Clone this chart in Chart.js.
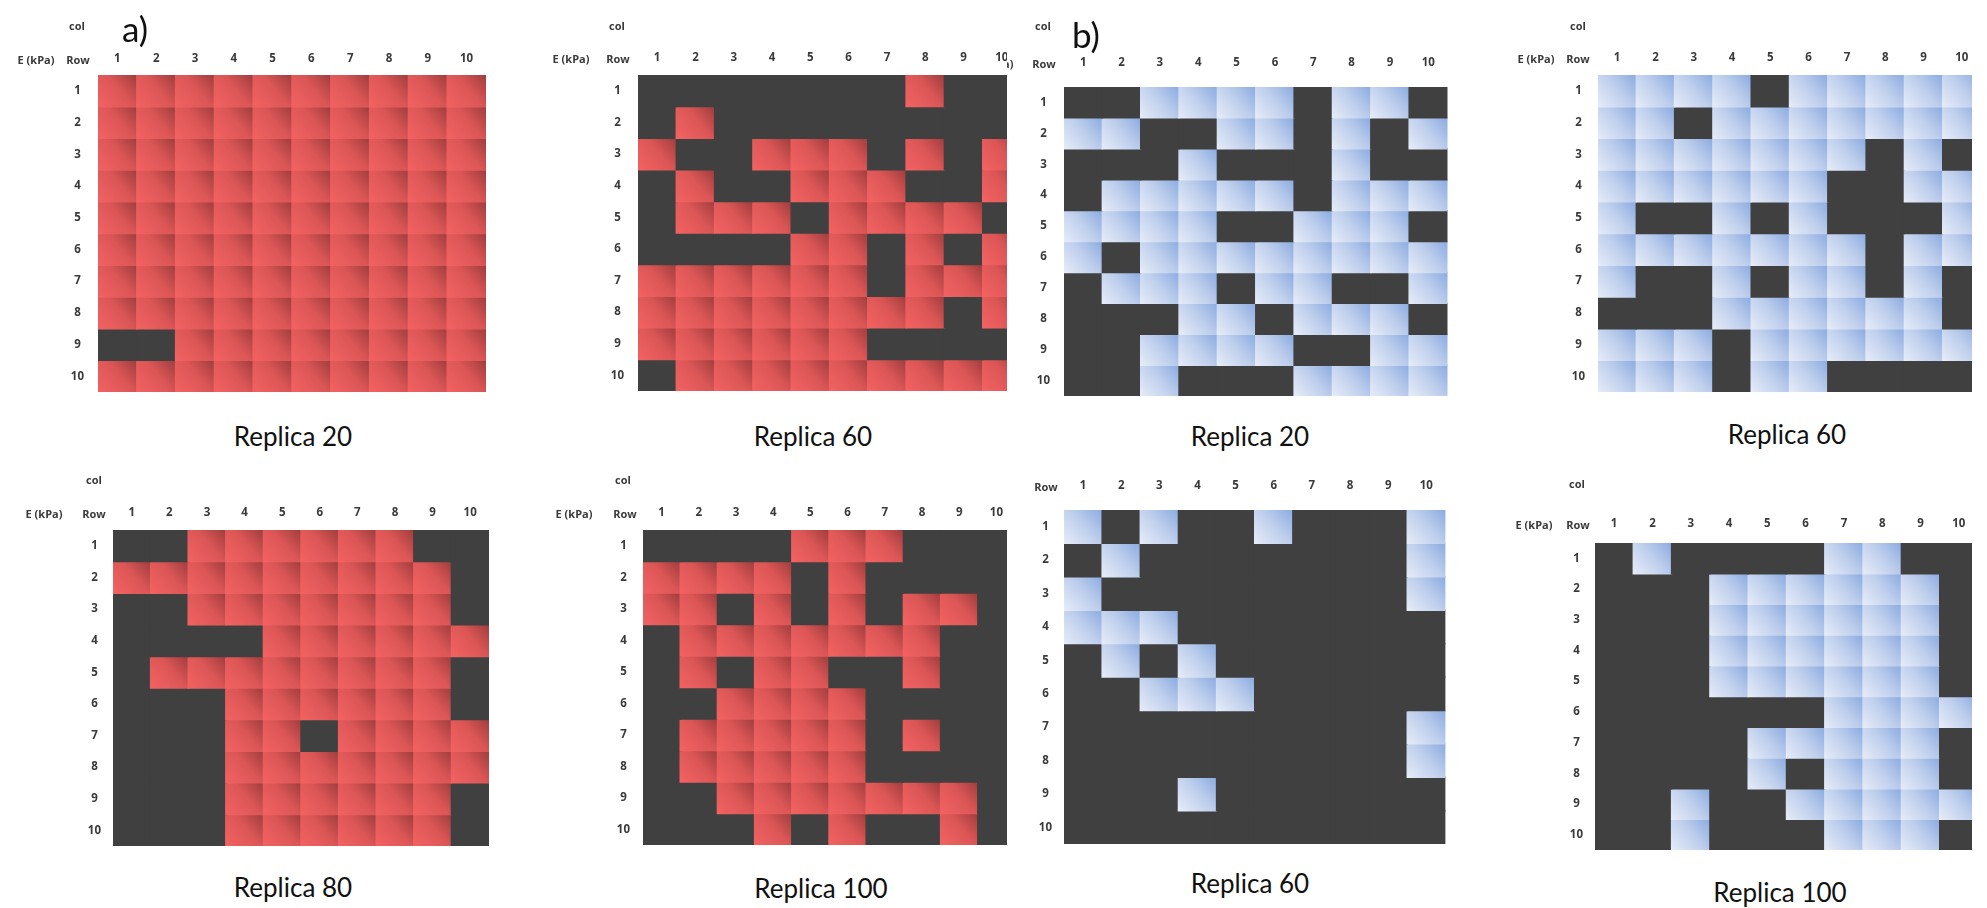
<!DOCTYPE html>
<html>
<head>
<meta charset="utf-8">
<script src="https://cdn.jsdelivr.net/npm/chart.js@4.4.1/dist/chart.umd.min.js"></script>
<style>
  html, body { margin: 0; padding: 0; background: #fff; }
  #page { position: relative; width: 1987px; height: 908px; overflow: hidden; }
  .panel { position: absolute; overflow: hidden; }
  .lbl { position: absolute; transform: translate(-50%, -50%); white-space: nowrap;
         font-family: "Open Sans", sans-serif; font-weight: 700; font-size: 11px; color: #3a3a3a; }
  .cap { position: absolute; transform: translate(-50%, -50%); white-space: nowrap;
         font-family: Lato, sans-serif; font-size: 26px; color: #111; }
  .tag { position: absolute; transform: translate(-50%, -50%); white-space: nowrap;
         font-family: Lato, sans-serif; font-size: 35px; color: #111; }
  canvas { position: absolute; }
</style>
</head>
<body>
<div id="page"></div>
<script>
// tick labels
const COLS = ['1', '2', '3', '4', '5', '6', '7', '8', '9', '10'];
const ROWS = ['1', '2', '3', '4', '5', '6', '7', '8', '9', '10'];

// 1 = coloured cell, 0 = dark cell (row by row, col 1..10)
const A_REPLICA_20 = [
    [1,1,1,1,1,1,1,1,1,1],
    [1,1,1,1,1,1,1,1,1,1],
    [1,1,1,1,1,1,1,1,1,1],
    [1,1,1,1,1,1,1,1,1,1],
    [1,1,1,1,1,1,1,1,1,1],
    [1,1,1,1,1,1,1,1,1,1],
    [1,1,1,1,1,1,1,1,1,1],
    [1,1,1,1,1,1,1,1,1,1],
    [0,0,1,1,1,1,1,1,1,1],
    [1,1,1,1,1,1,1,1,1,1]
];
const A_REPLICA_60 = [
    [0,0,0,0,0,0,0,1,0,0],
    [0,1,0,0,0,0,0,0,0,0],
    [1,0,0,1,1,1,0,1,0,1],
    [0,1,0,0,1,1,1,0,0,1],
    [0,1,1,1,0,1,1,1,1,0],
    [0,0,0,0,1,1,0,1,0,1],
    [1,1,1,1,1,1,0,1,1,1],
    [1,1,1,1,1,1,1,1,0,1],
    [1,1,1,1,1,1,0,0,0,0],
    [0,1,1,1,1,1,1,1,1,1]
];
const A_REPLICA_80 = [
    [0,0,1,1,1,1,1,1,0,0],
    [1,1,1,1,1,1,1,1,1,0],
    [0,0,1,1,1,1,1,1,1,0],
    [0,0,0,0,1,1,1,1,1,1],
    [0,1,1,1,1,1,1,1,1,0],
    [0,0,0,1,1,1,1,1,1,0],
    [0,0,0,1,1,0,1,1,1,1],
    [0,0,0,1,1,1,1,1,1,1],
    [0,0,0,1,1,1,1,1,1,0],
    [0,0,0,1,1,1,1,1,1,0]
];
const A_REPLICA_100 = [
    [0,0,0,0,1,1,1,0,0,0],
    [1,1,1,1,0,1,0,0,0,0],
    [1,1,0,1,0,1,0,1,1,0],
    [0,1,1,1,1,1,1,1,0,0],
    [0,1,0,1,1,0,0,1,0,0],
    [0,0,1,1,1,1,0,0,0,0],
    [0,1,1,1,1,1,0,1,0,0],
    [0,1,1,1,1,1,0,0,0,0],
    [0,0,1,1,1,1,1,1,1,0],
    [0,0,0,1,0,1,0,0,1,0]
];
const B_REPLICA_20 = [
    [0,0,1,1,1,1,0,1,1,0],
    [1,1,0,0,1,1,0,1,0,1],
    [0,0,0,1,0,0,0,1,0,0],
    [0,1,1,1,1,1,0,1,1,1],
    [1,1,1,1,0,0,1,1,1,0],
    [1,0,1,1,1,1,1,1,1,1],
    [0,1,1,1,0,1,1,0,0,1],
    [0,0,0,1,1,0,1,1,1,0],
    [0,0,1,1,1,1,0,0,1,1],
    [0,0,1,0,0,0,1,1,1,1]
];
const B_REPLICA_60_TOP = [
    [1,1,1,1,0,1,1,1,1,1],
    [1,1,0,1,1,1,1,1,1,1],
    [1,1,1,1,1,1,1,0,1,0],
    [1,1,1,1,1,1,0,0,1,1],
    [1,0,0,1,0,1,0,0,0,1],
    [1,1,1,1,1,1,1,0,1,1],
    [1,0,0,1,0,1,1,0,1,0],
    [0,0,0,1,1,1,1,1,1,0],
    [1,1,1,0,1,1,1,1,1,1],
    [1,1,1,0,1,1,0,0,0,0]
];
const B_REPLICA_60_BOTTOM = [
    [1,0,1,0,0,1,0,0,0,1],
    [0,1,0,0,0,0,0,0,0,1],
    [1,0,0,0,0,0,0,0,0,1],
    [1,1,1,0,0,0,0,0,0,0],
    [0,1,0,1,0,0,0,0,0,0],
    [0,0,1,1,1,0,0,0,0,0],
    [0,0,0,0,0,0,0,0,0,1],
    [0,0,0,0,0,0,0,0,0,1],
    [0,0,0,1,0,0,0,0,0,0],
    [0,0,0,0,0,0,0,0,0,0]
];
const B_REPLICA_100 = [
    [0,1,0,0,0,0,1,1,0,0],
    [0,0,0,1,1,1,1,1,1,0],
    [0,0,0,1,1,1,1,1,1,0],
    [0,0,0,1,1,1,1,1,1,0],
    [0,0,0,1,1,1,1,1,1,0],
    [0,0,0,0,0,0,1,1,1,1],
    [0,0,0,0,1,1,1,1,1,0],
    [0,0,0,0,1,0,1,1,1,0],
    [0,0,1,0,0,1,1,1,1,1],
    [0,0,1,0,0,0,1,1,1,0]
];

const DARK = '#404040';
const RED = ['#f36262', '#dc5656', '#9f3d3d'];
const BLUE = ['#e6ecf8', '#bccdec', '#8aabe1'];

// layout of each panel (page pixels)
const panels = [
    { grid: A_REPLICA_20, pal: RED, caption: 'Replica 20', tag: 'a)', tagAt: [135, 28],
      clip: [0, 0, 500, 456], gl: 98, gr: 486, gt: 75, gb: 413, rowX: 77, colY: 59,
      rowHdr: [78, 59], eHdr: [36, 59], colHdr: [77, 25], capAt: [293, 436] },
    { grid: A_REPLICA_60, pal: RED, caption: 'Replica 60',
      clip: [500, 0, 1007, 456], gl: 638, gr: 1021, gt: 75, gb: 412, rowX: 617, colY: 58,
      rowHdr: [618, 58], eHdr: [571, 58], colHdr: [617, 25], capAt: [813, 436] },
    { grid: B_REPLICA_20, pal: BLUE, caption: 'Replica 20', tag: 'b)', tagAt: [1086, 34],
      clip: [1007, 0, 1460, 456], gl: 1064, gr: 1452, gt: 87, gb: 417, rowX: 1043, colY: 63,
      rowHdr: [1044, 63], eHdr: [995, 63], colHdr: [1043, 25], capAt: [1250, 436] },
    { grid: B_REPLICA_60_TOP, pal: BLUE, caption: 'Replica 60',
      clip: [1460, 0, 1972, 456], gl: 1598, gr: 1981, gt: 75, gb: 412, rowX: 1578, colY: 58,
      rowHdr: [1578, 58], eHdr: [1536, 58], colHdr: [1578, 25], capAt: [1787, 434] },
    { grid: A_REPLICA_80, pal: RED, caption: 'Replica 80',
      clip: [0, 456, 500, 908], gl: 113, gr: 489, gt: 530, gb: 865, rowX: 94, colY: 513,
      rowHdr: [94, 513], eHdr: [44, 513], colHdr: [94, 479], capAt: [293, 887] },
    { grid: A_REPLICA_100, pal: RED, caption: 'Replica 100',
      clip: [500, 456, 1007, 908], gl: 643, gr: 1015, gt: 530, gb: 865, rowX: 623, colY: 513,
      rowHdr: [625, 513], eHdr: [574, 513], colHdr: [623, 479], capAt: [821, 888] },
    { grid: B_REPLICA_60_BOTTOM, pal: BLUE, caption: 'Replica 60',
      clip: [1007, 456, 1460, 908], gl: 1064, gr: 1450, gt: 510, gb: 863, rowX: 1045, colY: 486,
      rowHdr: [1046, 486], capAt: [1250, 883] },
    { grid: B_REPLICA_100, pal: BLUE, caption: 'Replica 100',
      clip: [1460, 456, 1972, 908], gl: 1595, gr: 1978, gt: 543, gb: 869, rowX: 1576, colY: 524,
      rowHdr: [1578, 524], eHdr: [1534, 524], colHdr: [1577, 483], capAt: [1780, 892] }
];

const page = document.getElementById('page');

function addText(parent, cls, text, at, ox, oy) {
    const d = document.createElement('div');
    d.className = cls;
    d.textContent = text;
    d.style.left = (at[0] - ox) + 'px';
    d.style.top = (at[1] - oy) + 'px';
    parent.appendChild(d);
}

function cellColor(ctx, grid, pal) {
    const r = ctx.datasetIndex, c = ctx.dataIndex;
    if (!grid[r][c]) return DARK;
    const chart = ctx.chart;
    const xs = chart.scales.x, ys = chart.scales.y;
    if (!xs || !ys || !chart.chartArea) return pal[1];
    const w = xs.width / COLS.length;
    const x0 = xs.getPixelForValue(c) - w / 2;
    const yTop = ys.getPixelForValue(r), yBot = ys.getPixelForValue(r + 1);
    if (!isFinite(x0) || !isFinite(yTop)) return pal[1];
    const g = chart.ctx.createLinearGradient(x0, yBot, x0 + w, yTop);
    g.addColorStop(0, pal[0]);
    g.addColorStop(0.55, pal[1]);
    g.addColorStop(1, pal[2]);
    return g;
}

const tickFont = { family: '"Open Sans", sans-serif', size: 11.5, weight: '700' };

panels.forEach(p => {
    const [cx0, cy0, cx1, cy1] = p.clip;
    const wrap = document.createElement('div');
    wrap.className = 'panel';
    wrap.style.left = cx0 + 'px';
    wrap.style.top = cy0 + 'px';
    wrap.style.width = (cx1 - cx0) + 'px';
    wrap.style.height = (cy1 - cy0) + 'px';
    page.appendChild(wrap);

    const yW = p.gl - p.rowX + 12;
    const yPad = p.gl - p.rowX - 7;
    const xH = p.gt - p.colY + 10;
    const xPad = p.gt - p.colY - 6.9;

    const canvas = document.createElement('canvas');
    canvas.width = (p.gr - p.gl) + yW;
    canvas.height = (p.gb - p.gt) + xH;
    canvas.style.left = (p.gl - yW - cx0) + 'px';
    canvas.style.top = (p.gt - xH - cy0) + 'px';
    wrap.appendChild(canvas);

    const datasets = p.grid.map((row, r) => ({
        label: ROWS[r],
        data: row.map(() => [r, r + 1]),
        backgroundColor: ctx => cellColor(ctx, p.grid, p.pal),
        borderWidth: 0,
        inflateAmount: 0.7,
        barPercentage: 1,
        categoryPercentage: 1,
        grouped: false
    }));

    new Chart(canvas.getContext('2d'), {
        type: 'bar',
        data: { labels: COLS, datasets: datasets },
        options: {
            responsive: false,
            animation: false,
            layout: { padding: 0 },
            plugins: { legend: { display: false }, tooltip: { enabled: false } },
            scales: {
                x: {
                    position: 'top',
                    grid: { display: false, drawTicks: false },
                    border: { display: false },
                    ticks: { color: '#3a3a3a', font: tickFont, padding: xPad, maxRotation: 0 },
                    afterFit: s => { s.height = xH; }
                },
                y: {
                    min: 0, max: 10, reverse: true,
                    grid: { display: false, drawTicks: false },
                    border: { display: false },
                    afterBuildTicks: s => { s.ticks = ROWS.map((l, i) => ({ value: i + 0.5 })); },
                    ticks: {
                        color: '#3a3a3a', font: tickFont, padding: yPad, crossAlign: 'center',
                        autoSkip: false,
                        callback: (v, i) => ROWS[i]
                    },
                    afterFit: s => { s.width = yW; }
                }
            }
        }
    });

    if (p.rowHdr) addText(wrap, 'lbl', 'Row', p.rowHdr, cx0, cy0);
    if (p.eHdr) addText(wrap, 'lbl', 'E (kPa)', p.eHdr, cx0, cy0);
    if (p.colHdr) addText(wrap, 'lbl', 'col', p.colHdr, cx0, cy0);
    if (p.tag) addText(wrap, 'tag', p.tag, p.tagAt, cx0, cy0);
    addText(wrap, 'cap', p.caption, p.capAt, cx0, cy0);
});
</script>
</body>
</html>
